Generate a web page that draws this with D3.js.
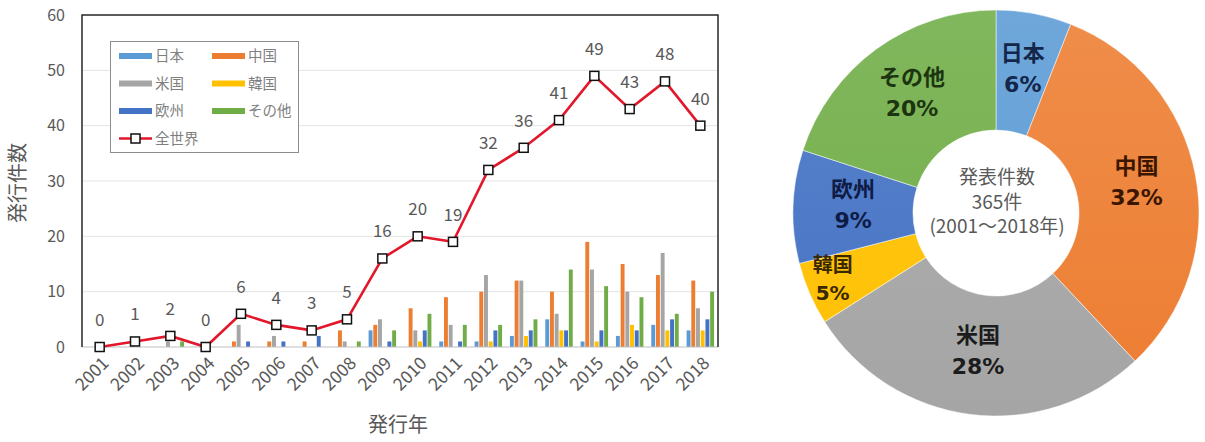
<!DOCTYPE html>
<html><head><meta charset="utf-8">
<script src="https://cdn.jsdelivr.net/npm/d3@7"></script>
<style>
body{margin:0;background:#fff;}
text{font-family:"Noto Sans CJK JP","Noto Sans",sans-serif;}
</style></head>
<body><svg id="c" width="1205" height="442"></svg>
<script>
const years = ["2001","2002","2003","2004","2005","2006","2007","2008","2009","2010","2011","2012","2013","2014","2015","2016","2017","2018"];
const seriesNames = ["日本","中国","米国","韓国","欧州","その他"];
const japan  = [0,0,0,0,0,0,0,0,3,0,1,1,2,5,1,2,4,3];
const china  = [0,0,0,0,1,1,1,3,4,7,9,10,12,10,19,15,13,12];
const usa    = [0,1,1,0,4,2,0,1,5,3,4,13,12,6,14,10,17,7];
const korea  = [0,0,0,0,0,0,0,0,0,1,0,1,2,3,1,4,3,3];
const europe = [0,0,0,0,1,1,2,0,1,3,1,3,3,3,3,3,5,5];
const other  = [0,0,1,0,0,0,0,1,3,6,4,4,5,14,11,9,6,10];
const world  = [0,1,2,0,6,4,3,5,16,20,19,32,36,41,49,43,48,40];
const yTicks = [0,10,20,30,40,50,60];
const pieNames = ["日本","中国","米国","韓国","欧州","その他"];
const piePct = [6,32,28,5,9,20];
const centerLines = ["発表件数","365件","(2001～2018年)"];

const colors = ["#5b9bd5","#ed7d31","#a5a5a5","#ffc000","#4472c4","#70ad47"];
const labelColors = ["#14264a","#3a1600","#1c1c1c","#3a2800","#0e1c45","#1c3510"];
const svg = d3.select("#c");
const allSeries = [japan,china,usa,korea,europe,other];

// ---- left combo chart
const L=82,R=718,T=15,B=347;
const x = d3.scaleBand().domain(years).range([L,R]).paddingInner(0.2).paddingOuter(0.1);
const xc = d3.scaleBand().domain(years).range([L,R]);
const y = d3.scaleLinear().domain([0,60]).range([B,T]);
const xs = d3.scaleBand().domain(d3.range(6)).range([0,x.bandwidth()]);

const g = svg.append("g");
g.selectAll("line.grid").data(yTicks.filter(d=>d>0&&d<60)).join("line")
 .attr("x1",L).attr("x2",R).attr("y1",d=>y(d)).attr("y2",d=>y(d))
 .attr("stroke","#e4e4e4").attr("stroke-width",1);

const yAxis = g.append("g").attr("transform",`translate(${L},0)`)
 .call(d3.axisLeft(y).tickValues(yTicks).tickSize(0).tickPadding(17));
yAxis.select(".domain").remove();
yAxis.selectAll("text").attr("font-size",16).attr("fill","#595959");

// bars
allSeries.forEach((s,si)=>{
  g.selectAll(null).data(s).join("rect")
   .attr("x",(d,i)=>x(years[i])+xs(si)+0.4)
   .attr("width",xs.bandwidth()-0.8)
   .attr("y",d=>y(d)).attr("height",d=>B-y(d))
   .attr("fill",colors[si]);
});

// baseline
g.append("line").attr("x1",L).attr("x2",R).attr("y1",B).attr("y2",B).attr("stroke","#bfbfbf");
// frame
g.append("path").attr("d",`M${L},${B}V${T}H${R}V${B}`).attr("fill","none").attr("stroke","#262626").attr("stroke-width",1.5);

// x labels
const xAxis = g.append("g").attr("transform",`translate(0,${B})`)
 .call(d3.axisBottom(xc).tickSize(0));
xAxis.select(".domain").remove();
xAxis.selectAll("text").attr("font-size",17.5).attr("fill","#595959")
 .attr("text-anchor","end").attr("y",0).attr("dy","0.35em")
 .attr("transform","translate(6,13) rotate(-45)");

// line
const line = d3.line().x((d,i)=>xc(years[i])+xc.bandwidth()/2).y(d=>y(d));
g.append("path").datum(world).attr("d",line).attr("fill","none")
 .attr("stroke","#e3172b").attr("stroke-width",2.6);
g.selectAll("rect.mk").data(world).join("rect").attr("class","mk")
 .attr("x",(d,i)=>xc(years[i])+xc.bandwidth()/2-4.5).attr("y",d=>y(d)-4.5)
 .attr("width",9).attr("height",9).attr("fill","#fff").attr("stroke","#111").attr("stroke-width",1.5);
g.selectAll("text.dl").data(world).join("text").attr("class","dl")
 .attr("x",(d,i)=>xc(years[i])+xc.bandwidth()/2).attr("y",d=>y(d)-21)
 .attr("text-anchor","middle").attr("font-size",17).attr("fill","#595959").text(d=>d);

// axis titles
g.append("text").attr("transform","translate(25,183) rotate(-90)").attr("text-anchor","middle")
 .attr("font-size",20).attr("fill","#595959").text("発行件数");
g.append("text").attr("x",398).attr("y",432).attr("text-anchor","middle")
 .attr("font-size",20).attr("fill","#595959").text("発行年");

// legend
const lg = g.append("g");
lg.append("rect").attr("x",110.5).attr("y",41.5).attr("width",188).attr("height",111)
 .attr("fill","#fff").attr("stroke","#8c8c8c").attr("stroke-width",1);
seriesNames.forEach((n,i)=>{
  const cx = 119 + (i%2)*93, cy = 56 + Math.floor(i/2)*27.5;
  lg.append("rect").attr("x",cx).attr("y",cy-3).attr("width",33).attr("height",6).attr("fill",colors[i]);
  lg.append("text").attr("x",cx+36).attr("y",cy+5).attr("font-size",14.5).attr("fill","#7f7f7f").text(n);
});
{
  const cx=119, cy=56+3*27.5;
  lg.append("line").attr("x1",cx).attr("x2",cx+33).attr("y1",cy).attr("y2",cy).attr("stroke","#e3172b").attr("stroke-width",2.6);
  lg.append("rect").attr("x",cx+12).attr("y",cy-4.5).attr("width",9).attr("height",9).attr("fill","#fff").attr("stroke","#111").attr("stroke-width",1.5);
  lg.append("text").attr("x",cx+36).attr("y",cy+5).attr("font-size",14.5).attr("fill","#7f7f7f").text("全世界");
}

// ---- donut
const pc = [996,213], Ro=203, Ri=83;
const pg = svg.append("g").attr("transform",`translate(${pc[0]},${pc[1]})`);
const pie = d3.pie().sort(null).value(d=>d)(piePct);
const arc = d3.arc().innerRadius(Ri).outerRadius(Ro);
const defs = svg.append("defs");
colors.forEach((c,i)=>{
  const gr = defs.append("linearGradient").attr("id","pg"+i).attr("gradientUnits","userSpaceOnUse")
    .attr("x1",0).attr("y1",-Ro).attr("x2",0).attr("y2",Ro);
  gr.append("stop").attr("offset","0").attr("stop-color",d3.interpolateRgb(c,"#fff")(0.12));
  gr.append("stop").attr("offset","1").attr("stop-color",c);
});
pg.selectAll("path").data(pie).join("path").attr("d",arc)
 .attr("fill",(d,i)=>`url(#pg${i})`).attr("stroke","#fff").attr("stroke-width",0.5);
const lr = [143,143,143,178,143,143];
pie.forEach((d,i)=>{
  const a=(d.startAngle+d.endAngle)/2, r=lr[i];
  const px=r*Math.sin(a), py=-r*Math.cos(a);
  const small = i===3;
  pg.append("text").attr("x",px).attr("y",py-12).attr("text-anchor","middle")
    .attr("font-size",small?20:22).attr("font-weight","bold").attr("fill",labelColors[i]).text(pieNames[i]);
  pg.append("text").attr("x",px).attr("y",py+(small?16:19)).attr("text-anchor","middle")
    .style("font-family","'DejaVu Sans',sans-serif")
    .attr("font-size",small?20:22).attr("font-weight","bold").attr("fill",labelColors[i]).text(piePct[i]+"%");
});
centerLines.forEach((s,i)=>{
  pg.append("text").attr("x",1).attr("y",-29+i*24.5).attr("text-anchor","middle")
   .attr("font-size",19).attr("fill","#595959").text(s);
});
</script></body></html>
